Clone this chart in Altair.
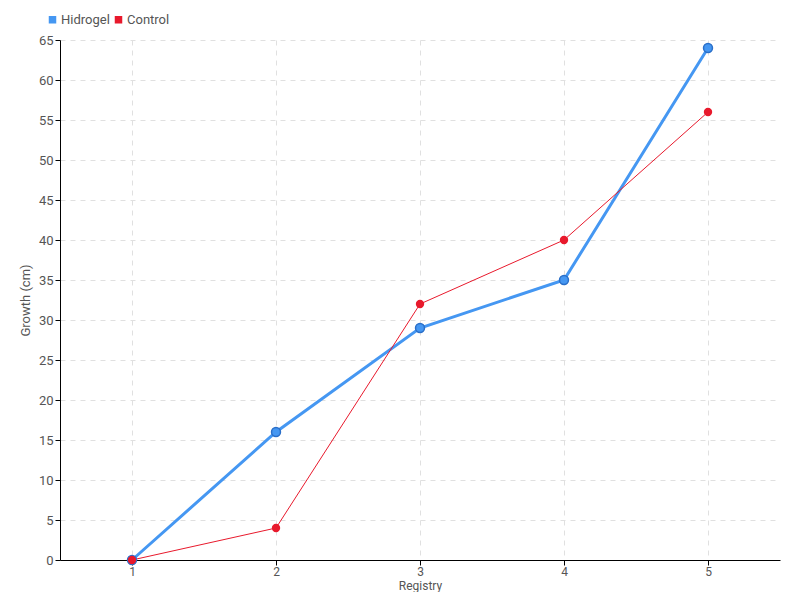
import altair as alt
import pandas as pd

registry = [1, 2, 3, 4, 5]
hidrogel = [0, 16, 29, 35, 64]
control = [0, 4, 32, 40, 56]

df = pd.DataFrame({
    "Registry": registry * 2,
    "Growth": hidrogel + control,
    "Series": ["Hidrogel"] * 5 + ["Control"] * 5,
})

FONT = "Roboto"
color = alt.Color("Series:N",
                  scale=alt.Scale(domain=["Hidrogel", "Control"], range=["#4597f2", "#e8192c"]),
                  legend=alt.Legend(title=None, orient="none", legendX=-14, legendY=-27,
                                    direction="horizontal", symbolType="square", symbolSize=36,
                                    labelFont=FONT, labelFontSize=13, labelColor="#555",
                                    columnPadding=2, symbolOffset=0, labelOffset=2))

x = alt.X("Registry:Q", scale=alt.Scale(domain=[0.5, 5.5], nice=False),
          axis=alt.Axis(values=registry, title="Registry", titlePadding=3, labelPadding=1,
                        titleFontSize=12, labelFontSize=12))
y = alt.Y("Growth:Q", scale=alt.Scale(domain=[0, 65], nice=False),
          axis=alt.Axis(values=list(range(0, 66, 5)), title="Growth (cm)", titlePadding=6))

base = alt.Chart(df).encode(x=x, y=y, color=color)

hid = base.transform_filter(alt.datum.Series == "Hidrogel")
con = base.transform_filter(alt.datum.Series == "Control")

layers = alt.layer(
    hid.mark_line(strokeWidth=3),
    con.mark_line(strokeWidth=1),
    hid.mark_point(filled=True, size=80, opacity=1, stroke="#2a6fc9", strokeWidth=1.5),
    con.mark_point(filled=True, size=70, opacity=1),
).properties(
    width=720, height=520,
    autosize=alt.AutoSizeParams(type="none"),
    padding={"left": 52, "top": 32, "right": 12, "bottom": 32},
).configure_view(stroke=None).configure_axis(
    labelFont=FONT, titleFont=FONT, labelFontSize=13, titleFontSize=13,
    labelColor="#555", titleColor="#555", titleFontWeight="normal",
    domainColor="#000", tickColor="#000", tickSize=5,
    gridColor="#e0e0e0", gridDash=[5, 5], gridWidth=1,
)

chart = layers
chart.save("out.html", embed_options={"renderer": "svg", "actions": False})
